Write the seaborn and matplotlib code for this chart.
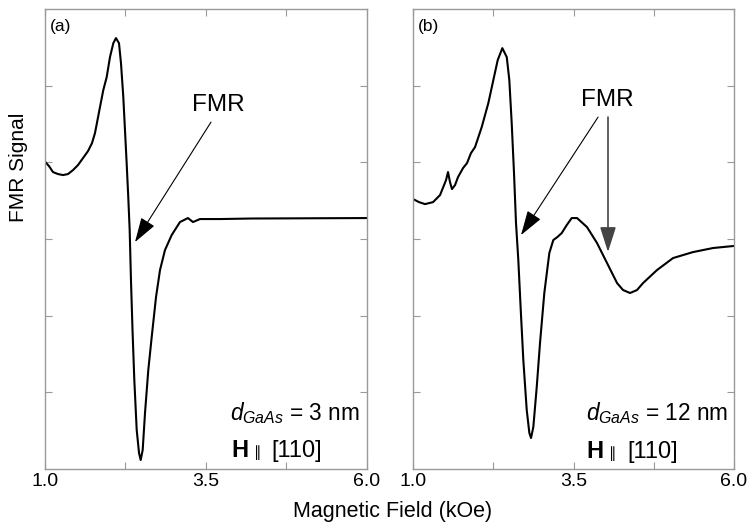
import numpy as np
import seaborn as sns
import matplotlib
matplotlib.use('Agg')
import matplotlib.pyplot as plt

# panel (a): d_GaAs = 3 nm
field_a = [1.000, 1.062, 1.124, 1.202, 1.280, 1.357, 1.435, 1.512, 1.590, 1.668,
           1.730, 1.776, 1.854, 1.905, 1.958, 2.009, 2.061, 2.102, 2.149, 2.180,
           2.216, 2.242, 2.268, 2.293, 2.315, 2.335, 2.359, 2.387, 2.424, 2.460,
           2.486, 2.517, 2.553, 2.604, 2.657, 2.724, 2.786, 2.863, 2.967, 3.096,
           3.220, 3.298, 3.407, 3.717, 4.200, 4.800, 5.400, 6.000]
signal_a = [4.010, 3.952, 3.874, 3.848, 3.835, 3.848, 3.900, 3.965, 4.056, 4.148,
            4.252, 4.382, 4.722, 4.943, 5.113, 5.374, 5.556, 5.622, 5.556, 5.295,
            4.852, 4.422, 3.991, 3.548, 3.117, 2.465, 1.813, 1.161, 0.509, 0.209,
            0.117, 0.248, 0.730, 1.291, 1.722, 2.243, 2.596, 2.856, 3.052, 3.222,
            3.274, 3.222, 3.261, 3.261, 3.268, 3.270, 3.272, 3.274]

# panel (b): d_GaAs = 12 nm
field_b = [1.000, 1.093, 1.187, 1.312, 1.421, 1.483, 1.514, 1.545, 1.576, 1.607,
           1.654, 1.701, 1.779, 1.841, 1.903, 1.966, 2.070, 2.173, 2.251, 2.319,
           2.391, 2.460, 2.500, 2.537, 2.573, 2.604, 2.640, 2.678, 2.718, 2.771,
           2.812, 2.838, 2.874, 2.927, 2.978, 3.045, 3.123, 3.185, 3.248, 3.316,
           3.394, 3.472, 3.555, 3.710, 3.866, 4.022, 4.178, 4.271, 4.380, 4.489,
           4.583, 4.801, 5.050, 5.361, 5.673, 6.000]
signal_b = [3.522, 3.482, 3.456, 3.482, 3.574, 3.704, 3.769, 3.874, 3.743, 3.652,
            3.704, 3.809, 3.926, 3.991, 4.122, 4.200, 4.461, 4.774, 5.074, 5.335,
            5.491, 5.374, 5.074, 4.513, 3.861, 3.209, 2.726, 2.074, 1.422, 0.770,
            0.470, 0.404, 0.548, 1.070, 1.643, 2.296, 2.817, 2.987, 3.026, 3.078,
            3.182, 3.274, 3.274, 3.156, 2.948, 2.687, 2.426, 2.335, 2.296, 2.335,
            2.426, 2.596, 2.752, 2.830, 2.883, 2.910]

x_major = [1.0, 3.5, 6.0]
x_labels = ['1.0', '3.5', '6.0']
x_minor = [2.25, 4.75]
y_ticks = [1, 2, 3, 4, 5]

sns.set_theme(style='ticks')
plt.rcParams['font.family'] = ['Liberation Sans', 'DejaVu Sans']
plt.rcParams['text.color'] = 'black'
plt.rcParams['mathtext.fontset'] = 'custom'
plt.rcParams['mathtext.rm'] = 'Liberation Sans'
plt.rcParams['mathtext.it'] = 'Liberation Sans:italic'
plt.rcParams['mathtext.bf'] = 'Liberation Sans:bold'

fig = plt.figure(figsize=(7.5, 5.31), dpi=100)
ax_a = fig.add_axes([0.060, 0.1168, 0.4293, 0.866])
ax_b = fig.add_axes([0.5507, 0.1168, 0.428, 0.866])

spine_col = '#999999'
for ax, fx, sy in [(ax_a, field_a, signal_a), (ax_b, field_b, signal_b)]:
    sns.lineplot(x=fx, y=sy, ax=ax, color='black', lw=1.5, estimator=None, sort=False)
    ax.set_xlim(1, 6)
    ax.set_ylim(0, 6)
    ax.set_xticks(x_major)
    ax.set_xticklabels(x_labels, fontsize=14)
    ax.set_xticks(x_minor, minor=True)
    ax.set_yticks(y_ticks)
    ax.set_yticklabels([])
    ax.tick_params(which='both', direction='in', top=True, right=True,
                   length=5, width=0.8, color=spine_col, labelcolor='black', pad=3)
    for s in ax.spines.values():
        s.set_color(spine_col)
        s.set_linewidth(1.0)

ax_a.text(1.070, 5.77, '(a)', fontsize=12.5, va='center', ha='left')
ax_b.text(1.070, 5.77, '(b)', fontsize=12.5, va='center', ha='left')

head = '-|>,head_length=1.1,head_width=0.35'
# panel (a) arrow
ax_a.text(3.686, 4.75, 'FMR', fontsize=17.5, ha='center', va='center')
ax_a.annotate('', xy=(2.398, 2.961), xytext=(3.578, 4.526),
              arrowprops=dict(arrowstyle=head, color='black', lw=0.8,
                              shrinkA=0, shrinkB=0, mutation_scale=14))
# panel (b) arrows
ax_b.text(4.022, 4.81, 'FMR', fontsize=17.5, ha='center', va='center')
ax_b.annotate('', xy=(2.682, 3.052), xytext=(3.882, 4.591),
              arrowprops=dict(arrowstyle=head, color='black', lw=0.8,
                              shrinkA=0, shrinkB=0, mutation_scale=14))
ax_b.annotate('', xy=(4.037, 2.830), xytext=(4.037, 4.591),
              arrowprops=dict(arrowstyle=head, color='#444444', lw=1.2,
                              shrinkA=0, shrinkB=0, mutation_scale=14))

# sample labels
ax_a.text(3.873, 0.639, r'$d_{GaAs}$ = 3 nm', fontsize=16.3, va='baseline', ha='left')
ax_a.text(3.888, 0.160, 'H', fontsize=17, fontweight='bold', va='baseline', ha='left')
ax_a.text(4.290, 0.160, '\u2225', fontsize=10.5, va='baseline', ha='center')
ax_a.text(4.509, 0.160, '[110]', fontsize=17, va='baseline', ha='left')

ax_b.text(3.695, 0.639, r'$d_{GaAs}$ = 12 nm', fontsize=16.3, va='baseline', ha='left')
ax_b.text(3.706, 0.140, 'H', fontsize=17, fontweight='bold', va='baseline', ha='left')
ax_b.text(4.090, 0.140, '\u2225', fontsize=10.5, va='baseline', ha='center')
ax_b.text(4.333, 0.140, '[110]', fontsize=17, va='baseline', ha='left')

fig.text(0.524, 0.036, 'Magnetic Field (kOe)', fontsize=15.5, ha='center', va='center')
fig.text(0.0253, 0.685, 'FMR Signal', fontsize=15, ha='center', va='center', rotation=90)

fig.savefig('out.png', dpi=100)
